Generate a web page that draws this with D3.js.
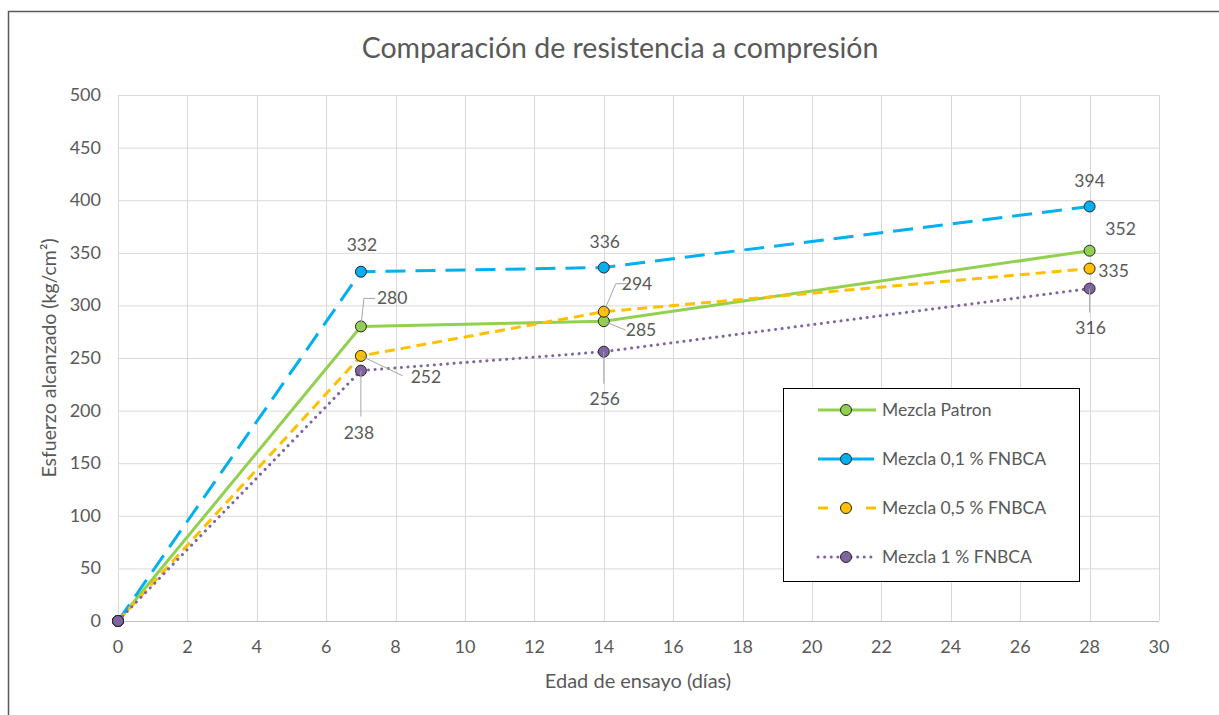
<!DOCTYPE html>
<html>
<head>
<meta charset="utf-8">
<script src="https://cdn.jsdelivr.net/npm/d3@7"></script>
<style>
body { margin: 0; background: #fff; }
text { font-family: Lato, "Open Sans", sans-serif; fill: #595959; }
</style>
</head>
<body>
<div id="chart-area"></div>
<script>
let width = 1219,
height = 715;

// data
let days = [0, 7, 14, 28]
let seriesNames = ['Mezcla Patron', 'Mezcla 0,1 % FNBCA', 'Mezcla 0,5 % FNBCA', 'Mezcla 1 % FNBCA']
let patron = [0, 280, 285, 352]
let fnbca01 = [0, 332, 336, 394]
let fnbca05 = [0, 252, 294, 335]
let fnbca1 = [0, 238, 256, 316]
let xTicks = d3.range(0, 31, 2)
let yTicks = d3.range(0, 501, 50)

let styles = [
	{color: '#92d050', dash: null, cap: 'butt'},
	{color: '#00b0f0', dash: '20 10', cap: 'butt'},
	{color: '#ffc000', dash: '10 6', cap: 'butt'},
	{color: '#8064a2', dash: '0.1 6.5', cap: 'round'}
]

// label placement (offset from point in px, leader polyline)
let labelPos = [
	[null, {dx: 16, dy: -28, anchor: 'start', leader: [[3, -28], [14, -28]]}, {dx: 22, dy: 9, anchor: 'start', leader: [[22, 9]]}, {dx: 31, dy: -22, anchor: 'middle'}],
	[null, {dx: 1, dy: -27, anchor: 'middle'}, {dx: 1, dy: -26, anchor: 'middle'}, {dx: 0, dy: -26, anchor: 'middle'}],
	[null, {dx: 65, dy: 21, anchor: 'middle', leader: [[42, 20]]}, {dx: 18, dy: -28, anchor: 'start', leader: [[12, -28], [25, -28]]}, {dx: 24, dy: 2, anchor: 'middle'}],
	[null, {dx: -2, dy: 62, anchor: 'middle', leader: [[0, 46]]}, {dx: 1, dy: 47, anchor: 'middle', leader: [[0, 32]]}, {dx: 1, dy: 39, anchor: 'middle', leader: [[0, 24]]}]
]

let allSeries = [patron, fnbca01, fnbca05, fnbca1]

let svg = d3.select('#chart-area').append('svg')
	.attr('width', width)
	.attr('height', height)

// outer frame
svg.append('path')
	.attr('d', 'M8.5,' + height + ' V11.5 H' + width)
	.attr('fill', 'none')
	.attr('stroke', '#595959')
	.attr('stroke-width', 1.5)

let x = d3.scaleLinear().domain([0, 30]).range([118, 1159])
let y = d3.scaleLinear().domain([0, 500]).range([621, 95])

// grid
svg.append('g').selectAll('line')
	.data(yTicks)
	.enter().append('line')
	.attr('x1', x(0)).attr('x2', x(30))
	.attr('y1', d => y(d) + 0.5).attr('y2', d => y(d) + 0.5)
	.attr('stroke', d => d === 0 ? '#bfbfbf' : '#d9d9d9')

svg.append('g').selectAll('line')
	.data(xTicks)
	.enter().append('line')
	.attr('x1', d => Math.round(x(d)) + 0.5).attr('x2', d => Math.round(x(d)) + 0.5)
	.attr('y1', y(500)).attr('y2', y(0))
	.attr('stroke', '#d9d9d9')

// tick labels
svg.append('g').selectAll('text')
	.data(yTicks)
	.enter().append('text')
	.attr('x', 101)
	.attr('y', d => y(d) + 6)
	.attr('text-anchor', 'end')
	.attr('font-size', 18)
	.text(d => d)

svg.append('g').selectAll('text')
	.data(xTicks)
	.enter().append('text')
	.attr('x', d => x(d))
	.attr('y', 653)
	.attr('text-anchor', 'middle')
	.attr('font-size', 18)
	.text(d => d)

// titles
svg.append('text')
	.attr('x', 620).attr('y', 58)
	.attr('text-anchor', 'middle')
	.attr('font-size', 28.5)
	.text('Comparación de resistencia a compresión')

svg.append('text')
	.attr('x', 638).attr('y', 688)
	.attr('text-anchor', 'middle')
	.attr('font-size', 20)
	.text('Edad de ensayo (días)')

svg.append('text')
	.attr('transform', 'translate(56,358) rotate(-90)')
	.attr('text-anchor', 'middle')
	.attr('font-size', 19.5)
	.text('Esfuerzo alcanzado (kg/cm²)')

let line = d3.line()
	.x((d, i) => x(days[i]))
	.y(d => y(d))

allSeries.forEach((s, k) => {
	let st = styles[k]
	svg.append('path')
		.datum(s)
		.attr('d', line)
		.attr('fill', 'none')
		.attr('stroke', st.color)
		.attr('stroke-width', 3)
		.attr('stroke-dasharray', st.dash)
		.attr('stroke-linecap', st.cap)
})

allSeries.forEach((s, k) => {
	svg.append('g').selectAll('circle')
		.data(s)
		.enter().append('circle')
		.attr('cx', (d, i) => x(days[i]))
		.attr('cy', d => y(d))
		.attr('r', 5.5)
		.attr('fill', styles[k].color)
		.attr('stroke', '#262626')
		.attr('stroke-width', 1)
})

// data labels
allSeries.forEach((s, k) => {
	s.forEach((v, i) => {
		let lp = labelPos[k][i]
		if (!lp) return
		let px = x(days[i]), py = y(v)
		if (lp.leader) {
			let pts = [[px, py]].concat(lp.leader.map(p => [px + p[0], py + p[1]]))
			svg.append('path')
				.attr('d', d3.line()(pts))
				.attr('fill', 'none')
				.attr('stroke', '#a6a6a6')
				.attr('stroke-width', 1)
		}
		svg.append('text')
			.attr('x', px + lp.dx)
			.attr('y', py + lp.dy + 6)
			.attr('text-anchor', lp.anchor)
			.attr('font-size', 17.5)
			.text(v)
	})
})

// legend
let legend = svg.append('g')
legend.append('rect')
	.attr('x', 783.5).attr('y', 388.5)
	.attr('width', 296).attr('height', 193)
	.attr('fill', '#fff')
	.attr('stroke', '#000')
	.attr('stroke-width', 1)

seriesNames.forEach((name, k) => {
	let ly = 410 + k * 49
	let st = styles[k]
	legend.append('line')
		.attr('x1', 818).attr('x2', 876)
		.attr('y1', ly).attr('y2', ly)
		.attr('stroke', st.color)
		.attr('stroke-width', 3)
		.attr('stroke-dasharray', k === 1 ? '24 8' : k === 2 ? '10 14' : st.dash)
		.attr('stroke-linecap', st.cap)
	legend.append('circle')
		.attr('cx', 846).attr('cy', ly)
		.attr('r', 5.5)
		.attr('fill', st.color)
		.attr('stroke', '#262626')
	legend.append('text')
		.attr('x', 882).attr('y', ly + 6)
		.attr('font-size', 17.5)
		.text(name)
})
</script>
</body>
</html>
